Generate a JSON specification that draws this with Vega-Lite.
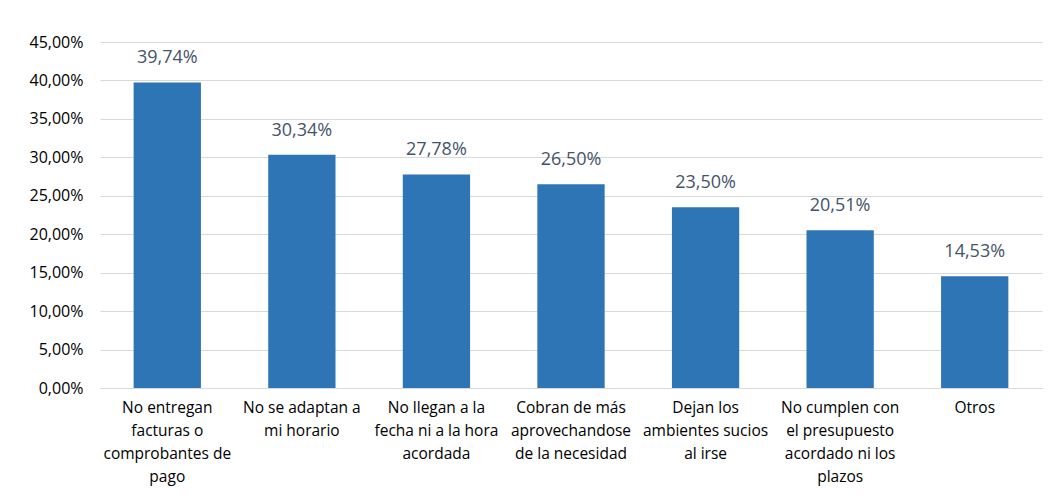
{
  "$schema": "https://vega.github.io/schema/vega-lite/v6.json",
  "width": 942,
  "height": 346,
  "autosize": {"type": "none"},
  "padding": {"left": 100, "top": 42, "right": 14, "bottom": 113},
  "background": "#ffffff",
  "config": {
    "locale": {"number": {"decimal": ",", "thousands": ".", "grouping": [3], "currency": ["", " €"]}},
    "view": {"stroke": null},
    "font": "Open Sans"
  },
  "data": {
    "values": [
      {"cat": "No entregan|facturas o|comprobantes de|pago", "value": 0.3974},
      {"cat": "No se adaptan a|mi horario", "value": 0.3034},
      {"cat": "No llegan a la|fecha ni a la hora|acordada", "value": 0.2778},
      {"cat": "Cobran de más|aprovechandose|de la necesidad", "value": 0.2650},
      {"cat": "Dejan los|ambientes sucios|al irse", "value": 0.2350},
      {"cat": "No cumplen con|el presupuesto|acordado ni los|plazos", "value": 0.2051},
      {"cat": "Otros", "value": 0.1453}
    ]
  },
  "encoding": {
    "x": {
      "field": "cat", "type": "nominal", "sort": null,
      "scale": {"paddingInner": 0.5, "paddingOuter": 0.25},
      "axis": {
        "title": null, "labelAngle": 0, "labelExpr": "split(datum.label, '|')",
        "labelFont": "Open Sans", "labelFontSize": 15.5, "labelColor": "#000000",
        "labelLineHeight": 23, "labelPadding": 12, "labelBaseline": "top",
        "ticks": false, "domainColor": "#D9D9D9", "domainWidth": 1, "labelLimit": 0
      }
    },
    "y": {
      "field": "value", "type": "quantitative",
      "scale": {"domain": [0, 0.45], "nice": false},
      "axis": {
        "title": null, "values": [0, 0.05, 0.1, 0.15, 0.2, 0.25, 0.3, 0.35, 0.4, 0.45],
        "format": ".2%", "labelFont": "Open Sans", "labelFontSize": 16, "labelColor": "#000000",
        "labelPadding": 17, "ticks": false, "domain": false,
        "gridColor": "#D9D9D9", "gridWidth": 1
      }
    }
  },
  "layer": [
    {"mark": {"type": "bar", "color": "#2E75B6"}},
    {
      "mark": {"type": "text", "baseline": "bottom", "dy": -15, "fontSize": 18, "font": "Open Sans", "color": "#44546A"},
      "encoding": {"text": {"field": "value", "type": "quantitative", "format": ".2%"}}
    }
  ]
}
